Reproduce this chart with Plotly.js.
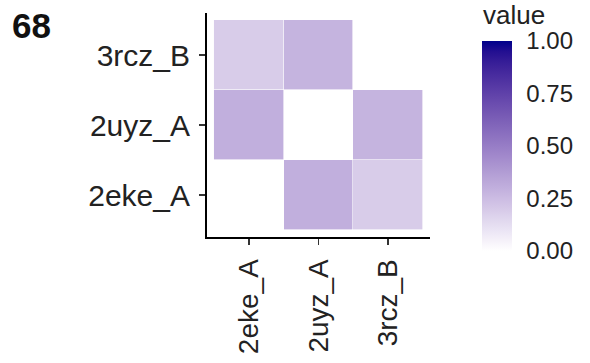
<!DOCTYPE html>
<html>
<head>
<meta charset="utf-8">
<script src="https://cdn.plot.ly/plotly-3.0.1.min.js"></script>
<style>html,body{margin:0;padding:0;background:#fff}#chart{width:590px;height:363px}</style>
</head>
<body>
<div id="chart"></div>
<script>
// Data
var xCategories = ["2eke_A", "2uyz_A", "3rcz_B"];
var yCategories = ["2eke_A", "2uyz_A", "3rcz_B"];
// rows follow yCategories (bottom to top), columns follow xCategories; null = NA
var rowEke  = [null, 0.30, 0.19];
var rowUyz  = [0.30, null, 0.28];
var rowRcz  = [0.19, 0.28, null];
var panelLabel = "68";
var legendTitle = "value";
var colorTicks = [0, 0.25, 0.5, 0.75, 1];

// gradient white -> darkblue interpolated in Lab space (like ggplot2)
function srgbToLin(c){c/=255;return c<=0.04045?c/12.92:Math.pow((c+0.055)/1.055,2.4);}
function linToSrgb(c){c=c<=0.0031308?12.92*c:1.055*Math.pow(c,1/2.4)-0.055;return Math.max(0,Math.min(255,Math.round(c*255)));}
var Xn=0.95047,Yn=1,Zn=1.08883;
function f(t){return t>0.008856?Math.cbrt(t):7.787*t+16/116;}
function finv(t){return t>0.206893?t*t*t:(t-16/116)/7.787;}
function rgbToLab(r,g,b){
  var R=srgbToLin(r),G=srgbToLin(g),B=srgbToLin(b);
  var X=0.4124*R+0.3576*G+0.1805*B,Y=0.2126*R+0.7152*G+0.0722*B,Z=0.0193*R+0.1192*G+0.9505*B;
  var fx=f(X/Xn),fy=f(Y/Yn),fz=f(Z/Zn);
  return [116*fy-16,500*(fx-fy),200*(fy-fz)];
}
function labToRgb(L,a,b){
  var fy=(L+16)/116,fx=fy+a/500,fz=fy-b/200;
  var X=Xn*finv(fx),Y=Yn*finv(fy),Z=Zn*finv(fz);
  var R=3.2406*X-1.5372*Y-0.4986*Z,G=-0.9689*X+1.8758*Y+0.0415*Z,B=0.0557*X-0.2040*Y+1.0570*Z;
  return "rgb("+linToSrgb(R)+","+linToSrgb(G)+","+linToSrgb(B)+")";
}
var lo=rgbToLab(255,255,255), hi=rgbToLab(0,0,139);
var colorscale=[];
for(var i=0;i<=20;i++){var t=i/20;colorscale.push([t,labToRgb(lo[0]+(hi[0]-lo[0])*t,lo[1]+(hi[1]-lo[1])*t,lo[2]+(hi[2]-lo[2])*t)]);}

var font="'Liberation Sans', Arial, Helvetica, sans-serif";
var trace={
  type:"heatmap",
  x:xCategories, y:yCategories,
  z:[rowEke,rowUyz,rowRcz],
  zmin:0, zmax:1,
  colorscale:colorscale,
  xgap:0.6, ygap:0.6,
  hoverongaps:false,
  colorbar:{
    x:1.233, xanchor:"left", xpad:0,
    y:(237-251)/224, yanchor:"bottom", ypad:0,
    lenmode:"pixels", len:210,
    thickness:30, outlinewidth:0,
    tickvals:colorTicks, tickformat:".2f",
    ticks:"outside", ticklen:10, tickwidth:1, tickcolor:"rgba(0,0,0,0)",
    tickfont:{family:font,size:24,color:"#222"}
  }
};
var layout={
  width:590, height:363,
  margin:{l:207,r:160,t:13,b:126},
  paper_bgcolor:"#fff", plot_bgcolor:"#fff",
  font:{family:font,color:"#222"},
  xaxis:{type:"category", range:[-0.6,2.6], showgrid:false, zeroline:false,
    showline:true, linecolor:"#000", linewidth:2, ticks:"outside", ticklen:6, tickwidth:1.5, tickcolor:"#333",
    tickangle:-90, tickfont:{family:font,size:28,color:"#222"}, ticklabelstandoff:3, fixedrange:true},
  yaxis:{type:"category", range:[-0.6,2.6], showgrid:false, zeroline:false,
    showline:true, linecolor:"#000", linewidth:2, ticks:"outside", ticklen:6, tickwidth:1.5, tickcolor:"#333",
    tickfont:{family:font,size:30,color:"#222"}, ticklabelstandoff:3, fixedrange:true},
  annotations:[
    {text:"<b>"+panelLabel+"</b>", xref:"paper", yref:"paper", x:(10-207)/223, y:(237-25)/224,
     xanchor:"left", yanchor:"middle", showarrow:false, font:{family:font,size:35,color:"#111"}},
    {text:legendTitle, xref:"paper", yref:"paper", x:(481-207)/223, y:(237-15)/224,
     xanchor:"left", yanchor:"middle", showarrow:false, font:{family:font,size:26,color:"#222"}}
  ]
};
Plotly.newPlot("chart",[trace],layout,{displayModeBar:false,staticPlot:true});
</script>
</body>
</html>
